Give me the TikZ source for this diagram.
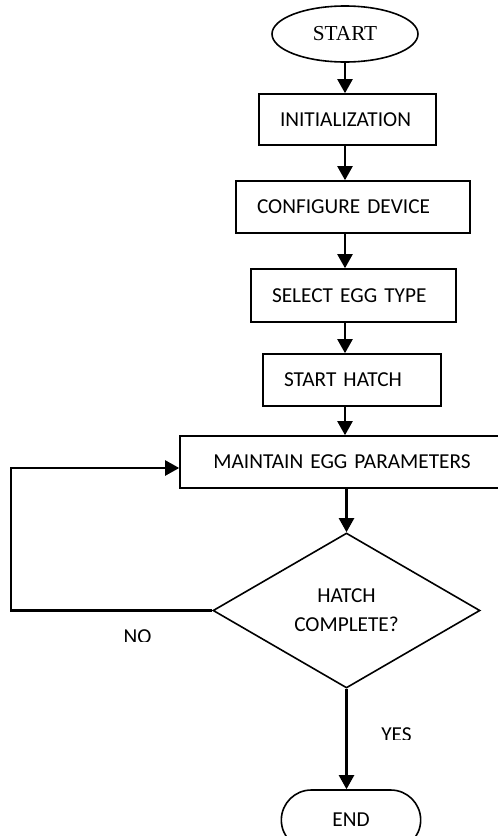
\documentclass[tikz,border=0pt]{standalone}
\usepackage{fontspec}
\setmainfont{Carlito}
\newfontfamily\startfont{Liberation Serif}
\usetikzlibrary{shapes.geometric,shapes.misc,arrows.meta}

\begin{document}
\begin{tikzpicture}[x=1pt, y=-1pt,
        font=\fontsize{21.3pt}{29pt}\selectfont,
        stepbox/.style={draw, rectangle, line width=1.6pt, inner xsep=21pt, inner ysep=0pt, align=left},
        flow/.style={line width=2.2pt, -{Triangle[length=14pt,width=15pt]}}]
        \useasboundingbox (0,0) rectangle (498,836);
        \clip (0,0) rectangle (498,836);

        % Start
        \node[draw, ellipse, line width=1.6pt, minimum width=146pt, minimum height=56pt, inner sep=0pt] (start) at (345,34) {\startfont START};

        % Steps
        \node[stepbox, text width=135pt, minimum height=51pt] (init) at (347.5,119.5) {INITIALIZATION};
        \node[stepbox, text width=192pt, minimum height=52pt] (config) at (353,207) {CONFIGURE DEVICE};
        \node[stepbox, text width=163pt, minimum height=53pt] (select) at (353.5,295.5) {SELECT EGG TYPE};
        \node[stepbox, text width=136pt, minimum height=52pt] (hatch) at (352,380) {START HATCH};
        \node[stepbox, text width=282pt, minimum height=52pt, align=center] (maintain) at (342,462) {MAINTAIN EGG PARAMETERS};

        % Decision
        \node[draw, diamond, aspect=1.72, line width=1.6pt, minimum width=267pt, minimum height=155pt, inner sep=0pt, align=center] (hatchq) at (346.5,610.5) {HATCH\\COMPLETE?};

        % End
        \node[draw, rounded rectangle, line width=1.6pt, minimum width=146pt, minimum height=60pt] (finish) at (351,820) {END};

        % Connections
        \draw[flow] (start.south) -- (init.north -| start.south);
        \draw[flow] (init.south -| start.south) -- (config.north -| start.south);
        \draw[flow] (config.south -| start.south) -- (select.north -| start.south);
        \draw[flow] (select.south -| start.south) -- (hatch.north -| start.south);
        \draw[flow] (hatch.south -| start.south) -- (maintain.north -| start.south);
        \draw[flow] (maintain.south -| hatchq.north) -- (hatchq.north);
        \draw[flow] (hatchq.south) -- (finish.north -| hatchq.south);

        % Loop back
        \coordinate (loopturn) at (11,468);
        \draw[flow] (hatchq.west) -| (loopturn) -- (maintain.west |- loopturn);

        % Labels
        \begin{scope}
            \clip (100,620) rectangle (200,641.5);
            \node (nolabel) at (137.5,637) {NO};
        \end{scope}
        \begin{scope}
            \clip (360,720) rectangle (440,739.5);
            \node (yeslabel) at (396.5,735) {YES};
        \end{scope}
\end{tikzpicture}
\end{document}
